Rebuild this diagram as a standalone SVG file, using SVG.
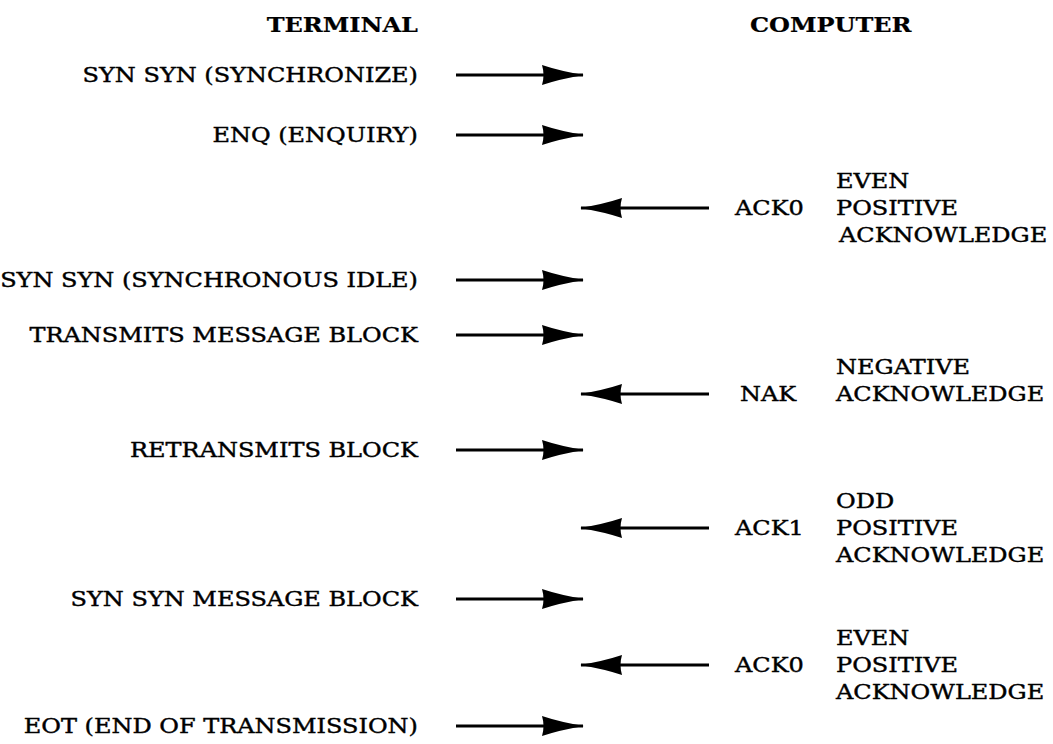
<svg xmlns="http://www.w3.org/2000/svg" width="1053" height="744" viewBox="0 0 1053 744">
<style>
  text { font-family: "DejaVu Serif", "Liberation Serif", serif; font-size: 20px; fill: #000; stroke: #000; stroke-width: 0.4; }
  .h { font-weight: bold; stroke-width: 0.2; }
  .l { text-anchor: end; }
  .arrow { stroke: #000; stroke-width: 3; fill: none; marker-end: url(#head); }
</style>
<defs>
  <marker id="head" markerUnits="userSpaceOnUse" viewBox="0 0 42 20" refX="41" refY="10" markerWidth="42" markerHeight="20" orient="auto">
    <path d="M0,0 Q18,6 42,10 Q18,14 0,20 Q3,10 0,0 Z" fill="#000"/>
  </marker>
</defs>
<rect width="1053" height="744" fill="#fff"/>
<g id="connectors">
  <line class="arrow" x1="456" y1="75" x2="583" y2="75"/>
  <line class="arrow" x1="456" y1="135" x2="583" y2="135"/>
  <line class="arrow" x1="709" y1="208" x2="581" y2="208"/>
  <line class="arrow" x1="456" y1="280" x2="583" y2="280"/>
  <line class="arrow" x1="456" y1="335" x2="583" y2="335"/>
  <line class="arrow" x1="709" y1="394" x2="581" y2="394"/>
  <line class="arrow" x1="456" y1="450" x2="583" y2="450"/>
  <line class="arrow" x1="709" y1="528" x2="581" y2="528"/>
  <line class="arrow" x1="456" y1="599" x2="583" y2="599"/>
  <line class="arrow" x1="709" y1="665" x2="581" y2="665"/>
  <line class="arrow" x1="456" y1="726" x2="583" y2="726"/>
</g>
<g transform="scale(1.2 1)">
  <g id="header-terminal"><text class="h l" x="348.3" y="32">TERMINAL</text></g>
  <g id="header-computer"><text class="h" x="625" y="32">COMPUTER</text></g>
  <g id="t1"><text class="l" x="348.3" y="82">SYN SYN (SYNCHRONIZE)</text></g>
  <g id="t2"><text class="l" x="348.3" y="142">ENQ (ENQUIRY)</text></g>
  <g id="c1">
    <text x="612.5" y="215">ACK0</text>
    <text x="696.7" y="188">EVEN</text>
    <text x="696.7" y="215">POSITIVE</text>
    <text x="699.2" y="242">ACKNOWLEDGE</text>
  </g>
  <g id="t3"><text class="l" x="348.3" y="287">SYN SYN (SYNCHRONOUS IDLE)</text></g>
  <g id="t4"><text class="l" x="348.3" y="342">TRANSMITS MESSAGE BLOCK</text></g>
  <g id="c2">
    <text x="616.7" y="401">NAK</text>
    <text x="696.7" y="374">NEGATIVE</text>
    <text x="696.7" y="401">ACKNOWLEDGE</text>
  </g>
  <g id="t5"><text class="l" x="348.3" y="457">RETRANSMITS BLOCK</text></g>
  <g id="c3">
    <text x="612.5" y="535">ACK1</text>
    <text x="696.7" y="508">ODD</text>
    <text x="696.7" y="535">POSITIVE</text>
    <text x="696.7" y="562">ACKNOWLEDGE</text>
  </g>
  <g id="t6"><text class="l" x="348.3" y="606">SYN SYN MESSAGE BLOCK</text></g>
  <g id="c4">
    <text x="612.5" y="672">ACK0</text>
    <text x="696.7" y="645">EVEN</text>
    <text x="696.7" y="672">POSITIVE</text>
    <text x="696.7" y="699">ACKNOWLEDGE</text>
  </g>
  <g id="t7"><text class="l" x="348.3" y="733">EOT (END OF TRANSMISSION)</text></g>
</g>
</svg>
